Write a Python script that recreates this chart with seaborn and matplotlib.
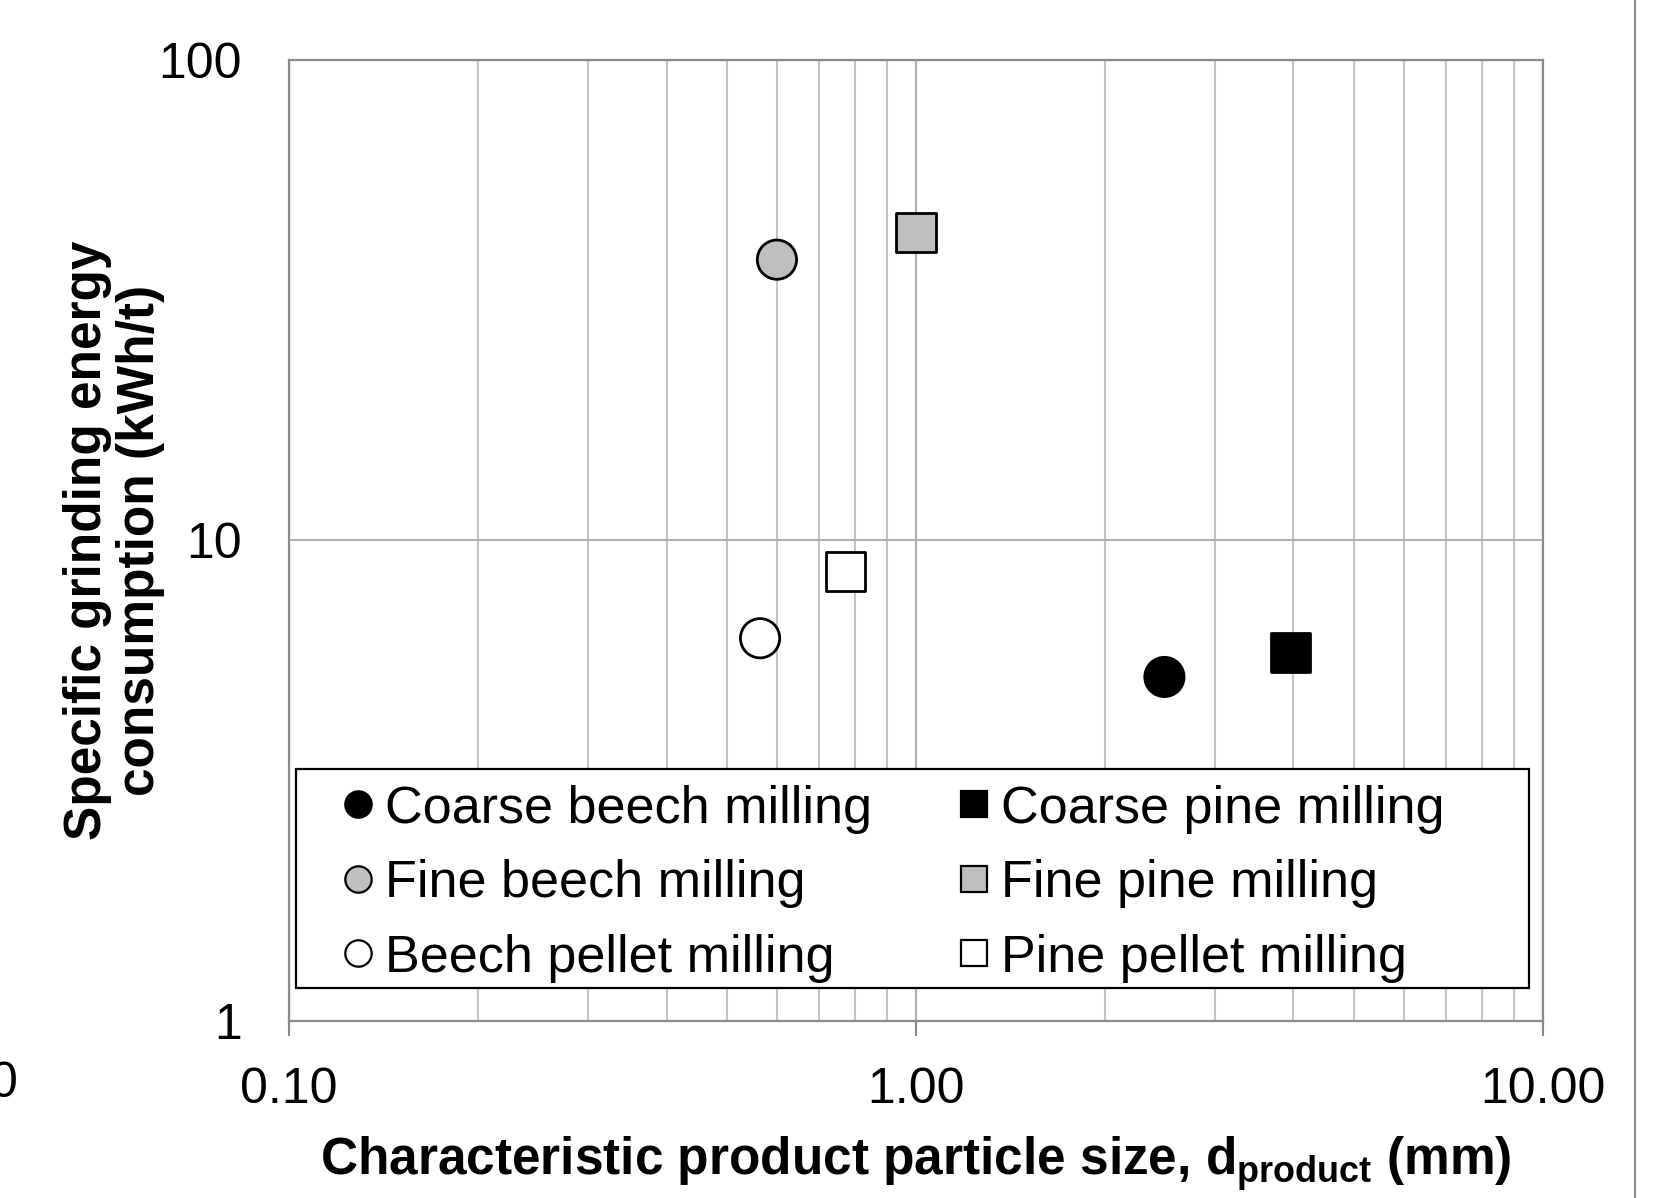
import numpy as np
import pandas as pd
import matplotlib
matplotlib.use("Agg")
import matplotlib.pyplot as plt
import seaborn as sns
from matplotlib.lines import Line2D
from matplotlib.patches import Rectangle
from matplotlib.ticker import FixedLocator, LogLocator, NullFormatter

# data
series = ["Coarse beech milling", "Coarse pine milling",
          "Fine beech milling", "Fine pine milling",
          "Beech pellet milling", "Pine pellet milling"]
size_mm = [2.49, 3.96, 0.60, 1.00, 0.564, 0.772]
energy_kwh_t = [5.2, 5.85, 38.4, 43.8, 6.26, 8.63]

x_ticks = [0.1, 1, 10]
x_ticklabels = ["0.10", "1.00", "10.00"]
y_ticks = [1, 10, 100]
y_ticklabels = ["1", "10", "100"]

# styling (kept apart from the data)
fill = {"Coarse beech milling": "black", "Coarse pine milling": "black",
        "Fine beech milling": "#bfbfbf", "Fine pine milling": "#bfbfbf",
        "Beech pellet milling": "white", "Pine pellet milling": "white"}
shape = {s: ("o" if "beech" in s.lower() else "s") for s in series}

sns.set_theme(style="white")
plt.rcParams['font.family'] = ['Liberation Sans', 'DejaVu Sans']
plt.rcParams['mathtext.fontset'] = 'custom'
plt.rcParams['mathtext.bf'] = 'Liberation Sans:bold'
plt.rcParams['mathtext.rm'] = 'Liberation Sans:bold'
for k in ['text.color', 'axes.labelcolor', 'xtick.labelcolor', 'ytick.labelcolor']:
    plt.rcParams[k] = 'black'

df = pd.DataFrame({"series": series, "size": size_mm, "energy": energy_kwh_t})

fig = plt.figure(figsize=(16.67, 11.98), dpi=100)
ax = fig.add_axes([0.1734, 0.1477, 0.7522, 0.8023])

ax.set_xscale("log")
ax.set_yscale("log")
ax.set_xlim(0.1, 10)
ax.set_ylim(1, 100)

# grid: vertical major+minor, horizontal major only
ax.xaxis.set_major_locator(FixedLocator(x_ticks))
ax.xaxis.set_minor_locator(LogLocator(base=10, subs=np.arange(2, 10)))
ax.xaxis.set_minor_formatter(NullFormatter())
ax.yaxis.set_major_locator(FixedLocator(y_ticks))
ax.yaxis.set_minor_locator(FixedLocator([]))
ax.grid(True, which="major", axis="both", color="#b0b0b0", lw=1.5, zorder=0)
ax.grid(True, which="minor", axis="x", color="#c4c4c4", lw=1.5, zorder=0)
ax.set_axisbelow(True)

sns.scatterplot(data=df, x="size", y="energy", hue="series", style="series",
                palette=fill, markers=shape, s=800, edgecolor="black",
                linewidth=2.0, legend=False, ax=ax, zorder=3)

ax.set_xticklabels(x_ticklabels)
ax.set_yticklabels(y_ticklabels)
ax.tick_params(axis="x", which="major", direction="out", length=11, width=1.5,
               color="#888888", pad=22, labelsize=36, bottom=True)
ax.tick_params(axis="x", which="minor", length=0)
ax.tick_params(axis="y", which="both", length=0, pad=34, labelsize=36)

for sp in ax.spines.values():
    sp.set_color("#8a8a8a")
    sp.set_linewidth(1.6)

ax.set_xlabel(r"Characteristic product particle size, d$_{\mathbf{product}}$ (mm)",
              fontsize=37, fontweight="bold")
ax.xaxis.set_label_coords(0.5, -0.118)
ax.set_ylabel("Specific grinding energy\nconsumption (kWh/t)",
              fontsize=37, fontweight="bold", linespacing=1.1)
ax.yaxis.set_label_coords(-0.099, 0.5)

# legend box (Excel style, drawn separately so the padding can be uneven)
ax.add_patch(Rectangle((0.0052, 0.0348), 0.9834, 0.2278, transform=ax.transAxes,
                       facecolor="white", edgecolor="black", lw=1.6, zorder=4))

# legend entries, filled row by row
order = ["Coarse beech milling", "Fine beech milling", "Beech pellet milling",
         "Coarse pine milling", "Fine pine milling", "Pine pellet milling"]
handles = [Line2D([], [], ls="none", marker=shape[s], markersize=19,
                  markerfacecolor=fill[s], markeredgecolor="black",
                  markeredgewidth=1.6, label=s) for s in order]
leg = ax.legend(handles=handles, ncol=2, loc="upper left",
                bbox_to_anchor=(0.0447, 0.246), borderaxespad=0, borderpad=0,
                fontsize=37.5, frameon=False, handlelength=0.5,
                handletextpad=0.26, labelspacing=0.49, columnspacing=1.72)
leg.set_zorder(5)

# cropping remnants visible in the original image
fig.add_artist(Line2D([1635 / 1667, 1635 / 1667], [0, 1], color="#8a8a8a", lw=1.5))
fig.text(18 / 1667, 1 - 1084 / 1198, "0", ha="right", va="center", fontsize=36)

fig.savefig("out.png", dpi=100)
